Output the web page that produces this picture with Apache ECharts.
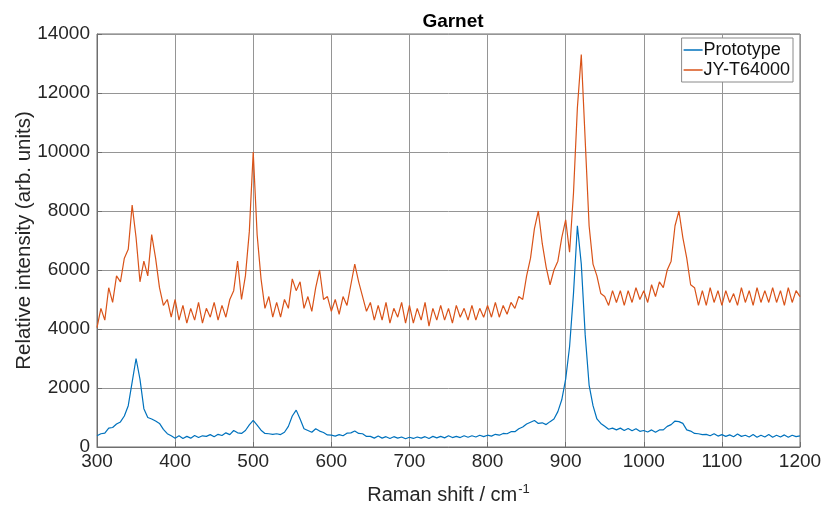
<!DOCTYPE html>
<html>
<head>
<meta charset="utf-8">
<title>Garnet</title>
<script src="https://cdn.jsdelivr.net/npm/echarts@6/dist/echarts.min.js"></script>
<style>
  html, body { margin: 0; padding: 0; background: #fff; }
  #chart { width: 827px; height: 511px; }
</style>
</head>
<body>
<div id="chart"></div>
<script>
// Raman shift (cm-1), sampled every 5 cm-1
var shift = [
  300, 305, 310, 315, 320, 325, 330, 335, 340, 345, 350, 355, 360, 365, 370, 375, 380, 385, 390, 395,
  400, 405, 410, 415, 420, 425, 430, 435, 440, 445, 450, 455, 460, 465, 470, 475, 480, 485, 490, 495,
  500, 505, 510, 515, 520, 525, 530, 535, 540, 545, 550, 555, 560, 565, 570, 575, 580, 585, 590, 595,
  600, 605, 610, 615, 620, 625, 630, 635, 640, 645, 650, 655, 660, 665, 670, 675, 680, 685, 690, 695,
  700, 705, 710, 715, 720, 725, 730, 735, 740, 745, 750, 755, 760, 765, 770, 775, 780, 785, 790, 795,
  800, 805, 810, 815, 820, 825, 830, 835, 840, 845, 850, 855, 860, 865, 870, 875, 880, 885, 890, 895,
  900, 905, 910, 915, 920, 925, 930, 935, 940, 945, 950, 955, 960, 965, 970, 975, 980, 985, 990, 995,
  1000, 1005, 1010, 1015, 1020, 1025, 1030, 1035, 1040, 1045, 1050, 1055, 1060, 1065, 1070, 1075, 1080, 1085, 1090, 1095,
  1100, 1105, 1110, 1115, 1120, 1125, 1130, 1135, 1140, 1145, 1150, 1155, 1160, 1165, 1170, 1175, 1180, 1185, 1190, 1195,
  1200
];

// Prototype spectrometer
var prototype = [
  380, 450, 470, 640, 660, 780, 850, 1050, 1400, 2200, 3000, 2300, 1300, 1000, 950, 880, 800, 600, 450, 380,
  300, 380, 290, 360, 300, 390, 320, 380, 360, 420, 350, 430, 390, 480, 420, 560, 480, 460, 560, 750,
  900, 740, 570, 460, 450, 430, 450, 420, 500, 700, 1050, 1250, 950, 620, 560, 500, 620, 540, 490, 410,
  400, 370, 420, 380, 470, 480, 540, 460, 450, 360, 360, 300, 370, 300, 350, 290, 350, 300, 340, 280,
  330, 290, 340, 300, 350, 290, 360, 310, 360, 310, 380, 320, 360, 320, 380, 330, 380, 340, 400, 350,
  400, 370, 430, 400, 460, 450, 520, 520, 620, 680, 780, 840, 900, 800, 820, 760, 860, 950, 1200, 1600,
  2300, 3400, 5200, 7500, 6200, 3800, 2100, 1400, 950, 800, 700, 600, 640, 580, 640, 560, 630, 550, 620, 530,
  560, 510, 580, 500, 580, 580, 700, 760, 880, 860, 800, 580, 540, 460, 450, 420, 430, 380, 450, 370,
  420, 360, 410, 350, 440, 360, 400, 340, 420, 330, 400, 340, 420, 330, 400, 340, 410, 330, 400, 350,
  380
];

// JY-T64000 reference spectrometer
var jyT64000 = [
  4050, 4700, 4300, 5400, 4900, 5800, 5600, 6400, 6700, 8200, 7100, 5600, 6300, 5800, 7200, 6400, 5400, 4800, 5000, 4400,
  5000, 4300, 4800, 4200, 4700, 4300, 4900, 4200, 4700, 4400, 4900, 4300, 4800, 4400, 5000, 5300, 6300, 5000, 5800, 7300,
  10000, 7200, 5700, 4700, 5100, 4400, 4900, 4400, 5000, 4700, 5700, 5300, 5600, 4700, 5100, 4600, 5400, 6000, 5000, 5100,
  4600, 5000, 4500, 5100, 4800, 5500, 6200, 5600, 5100, 4600, 4900, 4300, 4800, 4300, 4900, 4200, 4700, 4400, 4900, 4200,
  4800, 4200, 4700, 4300, 4900, 4100, 4700, 4300, 4800, 4300, 4700, 4200, 4800, 4400, 4700, 4300, 4800, 4300, 4700, 4400,
  4800, 4400, 4900, 4400, 4800, 4500, 4900, 4700, 5100, 5000, 5800, 6400, 7400, 8000, 6900, 6100, 5500, 6000, 6300, 7100,
  7700, 6600, 8600, 11500, 13300, 10400, 7500, 6200, 5800, 5200, 5100, 4800, 5300, 4900, 5300, 4800, 5300, 4900, 5400, 5000,
  5300, 4900, 5500, 5100, 5600, 5400, 6000, 6300, 7500, 8000, 7100, 6400, 5500, 5400, 4800, 5300, 4800, 5400, 4900, 5300,
  4800, 5300, 4900, 5200, 4800, 5400, 4900, 5300, 4800, 5400, 4900, 5300, 4900, 5400, 4900, 5300, 4800, 5400, 4900, 5300,
  5100
];

var seriesNames = ['Prototype', 'JY-T64000'];

function toPairs(xs, ys) {
    return xs.map(function(x, i) { return [x, ys[i]]; });
}

var chartDom = document.getElementById('chart');
var myChart = echarts.init(chartDom);

var fontFamily = '"Liberation Sans", Arial, Helvetica, sans-serif';
var axisColor = '#6e6e6e';
var gridColor = '#959595';

var option = {
    animation: false,
    backgroundColor: '#fff',
    textStyle: { fontFamily: fontFamily },
    title: {
        text: 'Garnet',
        left: 448,
        textAlign: 'center',
        top: 7,
        textStyle: { fontSize: 19, fontWeight: 'bold', color: '#000', fontFamily: fontFamily }
    },
    legend: {
        data: seriesNames,
        orient: 'vertical',
        right: 34,
        top: 38,
        icon: 'rect',
        itemWidth: 19,
        itemHeight: 1.5,
        itemGap: 2,
        padding: [3, 3, 3, 2],
        backgroundColor: '#fff',
        borderColor: '#8a8a8a',
        borderWidth: 1,
        textStyle: { fontSize: 18, color: '#111', padding: [0, 0, 0, -4], fontFamily: fontFamily }
    },
    grid: {
        left: 97,
        right: 27,
        top: 34,
        bottom: 64,
        outerBoundsMode: 'none',
        show: true,
        borderColor: axisColor,
        borderWidth: 1
    },
    xAxis: {
        type: 'value',
        min: 300,
        max: 1200,
        interval: 100,
        name: 'Raman shift / cm{sup|-1}',
        nameLocation: 'middle',
        nameGap: 36,
        nameMoveOverlap: false,
        nameTextStyle: {
            fontSize: 20,
            color: '#262626',
            fontFamily: fontFamily,
            rich: {
                sup: { fontSize: 13, verticalAlign: 'top', padding: [0, 0, 11, 1], color: '#262626' }
            }
        },
        axisLine: { show: true, lineStyle: { color: axisColor } },
        axisTick: { show: true, inside: true, length: 5, lineStyle: { color: axisColor } },
        axisLabel: {
            fontSize: 19,
            color: '#262626',
            margin: 5,
            fontFamily: fontFamily,
            formatter: function(val) { return String(val); }
        },
        splitLine: { show: true, lineStyle: { color: gridColor, width: 1 } }
    },
    yAxis: {
        type: 'value',
        min: 0,
        max: 14000,
        interval: 2000,
        name: 'Relative intensity (arb. units)',
        nameLocation: 'middle',
        nameGap: 62,
        nameMoveOverlap: false,
        nameTextStyle: { fontSize: 20.5, color: '#262626', fontFamily: fontFamily },
        axisLine: { show: true, lineStyle: { color: axisColor } },
        axisTick: { show: true, inside: true, length: 5, lineStyle: { color: axisColor } },
        axisLabel: {
            fontSize: 19,
            color: '#262626',
            margin: 7,
            fontFamily: fontFamily,
            formatter: function(val) { return String(val); }
        },
        splitLine: { show: true, lineStyle: { color: gridColor, width: 1 } }
    },
    series: [
        {
            name: seriesNames[0],
            type: 'line',
            showSymbol: false,
            symbol: 'none',
            color: '#0072BD',
            lineStyle: { width: 1.2, color: '#0072BD' },
            data: toPairs(shift, prototype)
        },
        {
            name: seriesNames[1],
            type: 'line',
            showSymbol: false,
            symbol: 'none',
            color: '#D95319',
            lineStyle: { width: 1.2, color: '#D95319' },
            data: toPairs(shift, jyT64000)
        }
    ]
};

myChart.setOption(option);
</script>
</body>
</html>
